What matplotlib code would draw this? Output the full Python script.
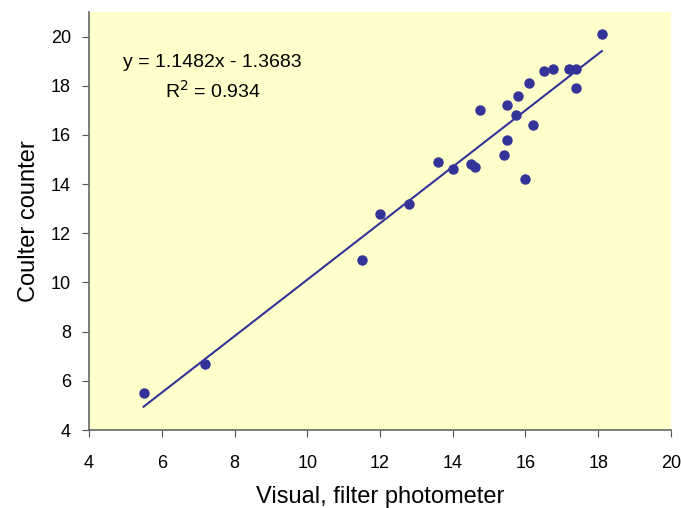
import matplotlib
matplotlib.use('Agg')
import matplotlib.pyplot as plt
import numpy as np

plt.rcParams['font.family'] = ['Liberation Sans', 'DejaVu Sans']

# visual / filter photometer vs coulter counter readings
visual = [5.5, 7.2, 11.5, 12.0, 12.8, 13.6, 14.0, 14.5, 14.6, 14.75,
          15.4, 15.5, 15.5, 15.75, 15.8, 16.0, 16.1, 16.2, 16.5, 16.75,
          17.2, 17.4, 17.4, 18.1]
coulter = [5.5, 6.7, 10.9, 12.8, 13.2, 14.9, 14.6, 14.8, 14.7, 17.0,
           15.2, 15.8, 17.2, 16.8, 17.6, 14.2, 18.1, 16.4, 18.6, 18.7,
           18.7, 18.7, 17.9, 20.1]

slope = 1.1482
intercept = -1.3683
r2 = 0.934

navy = '#333399'

fig = plt.figure(figsize=(6.81, 5.08), dpi=100)
ax = fig.add_axes([0.1307, 0.1535, 0.8546, 0.8228])
ax.set_facecolor('#FFFFCC')

ax.plot(visual, coulter, 'o', color=navy, markersize=6.5, zorder=3)

xs = np.array([min(visual), max(visual)])
ax.plot(xs, slope * xs + intercept, color=navy, linewidth=1.5, zorder=2)

ax.text(7.4, 18.96, 'y = %.4fx - %.4f' % (slope, -intercept),
        ha='center', va='center', fontsize=14)
ax.text(7.4, 17.8, r'R$^{2}$ = %.3f' % r2, ha='center', va='center', fontsize=14)

ax.set_xlim(4, 20)
ax.set_ylim(4, 21)
ax.set_xticks(range(4, 21, 2))
ax.set_yticks(range(4, 21, 2))
ax.tick_params(labelsize=13, direction='out', length=5, color='#555555')
ax.tick_params(axis='x', pad=13)
ax.tick_params(axis='y', pad=8)

for s in ['top', 'right']:
    ax.spines[s].set_visible(False)
for s in ['left', 'bottom']:
    ax.spines[s].set_color('#666666')
    ax.spines[s].set_linewidth(1.2)

ax.set_xlabel('Visual, filter photometer', fontsize=17, labelpad=10)
ax.set_ylabel('Coulter counter', fontsize=17, labelpad=8)

fig.savefig('out.png', dpi=100)
